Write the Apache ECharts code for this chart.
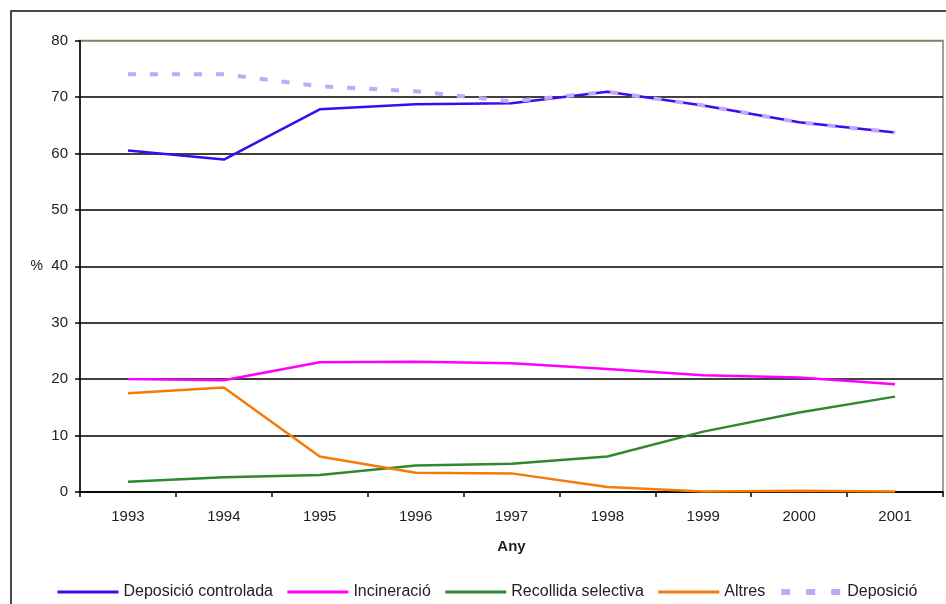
<!DOCTYPE html>
<html>
<head>
<meta charset="utf-8">
<script src="https://cdn.jsdelivr.net/npm/echarts@6/dist/echarts.min.js"></script>
<style>
html,body{margin:0;padding:0;background:#fff;}
#chart{width:946px;height:604px;}
</style>
</head>
<body>
<div id="chart"></div>
<script>
const years = ['1993','1994','1995','1996','1997','1998','1999','2000','2001'];
const deposicioControlada = [60.5, 58.9, 67.8, 68.7, 68.9, 70.9, 68.5, 65.5, 63.7];
const incineracio = [20.0, 19.8, 23.0, 23.1, 22.8, 21.8, 20.7, 20.3, 19.1];
const recollidaSelectiva = [1.8, 2.6, 3.0, 4.7, 5.0, 6.3, 10.7, 14.1, 16.9];
const altres = [17.5, 18.5, 6.3, 3.4, 3.3, 0.9, 0.1, 0.2, 0.1];
const deposicio = [74.0, 74.0, 71.9, 71.0, 69.2, 70.9, 68.5, 65.5, 63.7];
const seriesNames = ['Deposició controlada', 'Incineració', 'Recollida selectiva', 'Altres', 'Deposició'];

const chart = echarts.init(document.getElementById('chart'), null, {renderer: 'canvas'});
const font = 'Arial, "Liberation Sans", sans-serif';
const splitColors = ['#000','#000','#000','#000','#000','#000','#000','#000','#8a806e'];

chart.setOption({
  animation: false,
  backgroundColor: '#fff',
  graphic: [{
    type: 'rect',
    shape: {x: 11, y: 11, width: 960, height: 620},
    style: {fill: 'none', stroke: '#111', lineWidth: 1.5},
    silent: true
  }],
  grid: {
    left: 80, right: 3, top: 40.5, bottom: 112,
    show: true, borderColor: '#8a806e', borderWidth: 1.5, backgroundColor: 'transparent'
  },
  legend: {
    left: 51, top: 579,
    itemWidth: 61, itemHeight: 12, itemGap: 13,
    itemStyle: {opacity: 0},
    lineStyle: {width: 3},
    textStyle: {fontFamily: font, fontSize: 16, color: '#222'},
    data: [
      {name: seriesNames[0]},
      {name: seriesNames[1]},
      {name: seriesNames[2]},
      {name: seriesNames[3]},
      {name: seriesNames[4], lineStyle: {width: 6, type: [9, 16], dashOffset: 0}}
    ]
  },
  xAxis: {
    type: 'category',
    data: years,
    boundaryGap: true,
    name: 'Any',
    nameLocation: 'middle',
    nameGap: 47,
    nameTextStyle: {fontFamily: font, fontSize: 15, fontWeight: 'bold', color: '#222'},
    axisLine: {lineStyle: {color: '#000', width: 1.5}},
    axisTick: {show: true, length: 5, lineStyle: {color: '#000', width: 1.5}},
    axisLabel: {fontFamily: font, fontSize: 15, color: '#222', margin: 17}
  },
  yAxis: {
    type: 'value',
    min: 0, max: 80, interval: 10,
    name: '%',
    nameLocation: 'middle',
    nameRotate: 0,
    nameGap: 37,
    nameTextStyle: {fontFamily: font, fontSize: 14, color: '#222'},
    axisLine: {show: true, lineStyle: {color: '#000', width: 1.5}},
    axisTick: {show: true, length: 5, lineStyle: {color: '#000', width: 1.5}},
    axisLabel: {fontFamily: font, fontSize: 15, color: '#222', margin: 12},
    splitLine: {show: true, lineStyle: {color: splitColors, width: 1.5}}
  },
  series: [
    {name: seriesNames[0], type: 'line', data: deposicioControlada, symbol: 'none',
     lineStyle: {color: '#3a0cf0', width: 2.5}, itemStyle: {color: '#3a0cf0'}},
    {name: seriesNames[1], type: 'line', data: incineracio, symbol: 'none',
     lineStyle: {color: '#ff00ff', width: 2.5}, itemStyle: {color: '#ff00ff'}},
    {name: seriesNames[2], type: 'line', data: recollidaSelectiva, symbol: 'none',
     lineStyle: {color: '#2f8a2f', width: 2.5}, itemStyle: {color: '#2f8a2f'}},
    {name: seriesNames[3], type: 'line', data: altres, symbol: 'none',
     lineStyle: {color: '#f57a0a', width: 2.5}, itemStyle: {color: '#f57a0a'}},
    {name: seriesNames[4], type: 'line', data: deposicio, symbol: 'none',
     lineStyle: {color: '#c6a6fb', width: 4, type: [8, 14]}, itemStyle: {color: '#c6a6fb'}}
  ]
});
</script>
</body>
</html>
